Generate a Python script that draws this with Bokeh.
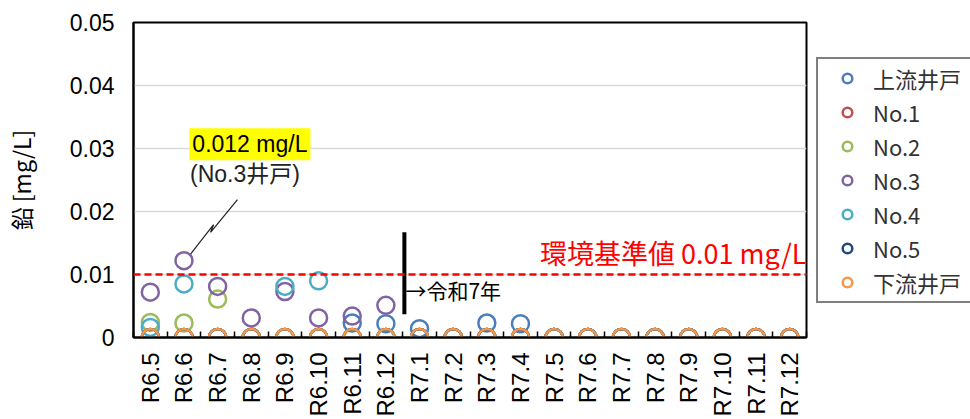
from math import pi
from bokeh.plotting import figure
from bokeh.models import Range1d, FixedTicker, Span, Label, Legend, LegendItem
from bokeh.core.properties import value
from bokeh.embed import file_html
from bokeh.resources import INLINE

# ---- data ----
months = ["R6.5", "R6.6", "R6.7", "R6.8", "R6.9", "R6.10", "R6.11", "R6.12",
          "R7.1", "R7.2", "R7.3", "R7.4", "R7.5", "R7.6", "R7.7", "R7.8",
          "R7.9", "R7.10", "R7.11", "R7.12"]
upstream = [0, 0, 0, 0, 0, 0, 0.0023, 0.0022, 0.0014, 0, 0.0023, 0.0022,
            0, 0, 0, 0, 0, 0, 0, 0]
no1 = [0] * 20
no2 = [0.0024, 0.0023, 0.0061, 0, 0, 0, 0, 0, 0, 0, 0, 0, 0, 0, 0, 0, 0, 0, 0, 0]
no3 = [0.0072, 0.0122, 0.0081, 0.0031, 0.0073, 0.0031, 0.0034, 0.0051,
       0, 0, 0, 0, 0, 0, 0, 0, 0, 0, 0, 0]
no4 = [0.0016, 0.0085, 0, 0, 0.0081, 0.0090, 0, 0, 0, 0, 0, 0, 0, 0, 0, 0, 0, 0, 0, 0]
no5 = [0] * 20
downstream = [0] * 20

series_names = ["上流井戸", "No.1", "No.2", "No.3", "No.4", "No.5", "下流井戸"]
series_values = [upstream, no1, no2, no3, no4, no5, downstream]
series_colors = ["#4A7EBB", "#C0504D", "#9BBB59", "#8064A2", "#4BACC6", "#1F497D", "#F79646"]

y_ticks = [0, 0.01, 0.02, 0.03, 0.04, 0.05]
y_tick_labels = ["0", "0.01", "0.02", "0.03", "0.04", "0.05"]
standard = 0.01
peak_value = 0.012
peak_month = "R6.6"
era_start = "R7.1"

# ---- figure ----
n = len(months)
xs = [i + 0.5 for i in range(n)]

p = figure(frame_width=673, frame_height=315,
           x_range=Range1d(0, n), y_range=Range1d(0, 0.05),
           output_backend="svg", toolbar_location=None,
           min_border_left=133, min_border_top=22, min_border_bottom=78,
           min_border_right=5)
p.background_fill_color = "white"
p.border_fill_color = "white"
p.outline_line_color = "black"
p.outline_line_width = 2

# axes
p.xaxis.ticker = FixedTicker(ticks=xs, minor_ticks=list(range(n + 1)))
p.xaxis.major_label_overrides = {x: m for x, m in zip(xs, months)}
p.xaxis.major_label_orientation = pi / 2
p.xaxis.major_tick_in = 0
p.xaxis.major_tick_out = 0
p.xaxis.minor_tick_in = 6
p.xaxis.minor_tick_out = 0
p.xaxis.minor_tick_line_color = "black"
p.xaxis.minor_tick_line_width = 1.5
p.xaxis.axis_line_color = "black"
p.xaxis.axis_line_width = 2
p.xaxis.major_label_text_font = "Liberation Sans"
p.xaxis.major_label_text_font_size = "24px"
p.xaxis.major_label_text_color = "black"
p.xaxis.major_label_standoff = 15

p.yaxis.ticker = FixedTicker(ticks=y_ticks, minor_ticks=[])
p.yaxis.major_label_overrides = {t: l for t, l in zip(y_ticks, y_tick_labels)}
p.yaxis.major_tick_in = 0
p.yaxis.major_tick_out = 0
p.yaxis.axis_line_color = "black"
p.yaxis.axis_line_width = 2
p.yaxis.major_label_text_font = "Liberation Sans"
p.yaxis.major_label_text_font_size = "23px"
p.yaxis.major_label_text_color = "black"
p.yaxis.major_label_standoff = 19
p.yaxis.axis_label = "鉛 [mg/L]"
p.yaxis.axis_label_text_font = "Noto Sans CJK JP"
p.yaxis.axis_label_text_font_size = "23px"
p.yaxis.axis_label_text_font_style = "normal"
p.yaxis.axis_label_text_color = "black"
p.yaxis.axis_label_standoff = 29

p.xgrid.visible = False
p.ygrid.ticker = FixedTicker(ticks=y_ticks[1:])
p.ygrid.grid_line_color = "#d9d9d9"
p.ygrid.grid_line_width = 1.5

# standard line
p.add_layout(Span(location=standard, dimension="width", line_color="#FF0000",
                  line_dash="7 4", line_width=2.5))
p.add_layout(Label(x=n, y=standard, text="環境基準値 0.01 mg/L", text_align="right",
                   text_baseline="alphabetic", y_offset=22, text_color="#FF0000",
                   text_font="Noto Sans CJK JP", text_font_size="27px"))

# era boundary
ex = months.index(era_start) + 0.05
p.segment(x0=[ex], y0=[0.0037], x1=[ex], y1=[0.0167], line_color="black", line_width=4)
p.add_layout(Label(x=ex + 0.03, y=0.0076, text="→令和7年", text_align="left",
                   text_baseline="middle", text_color="black",
                   text_font="Noto Sans CJK JP", text_font_size="21px"))

# callout
pk = months.index(peak_month) + 0.5
call_x = [pk + 0.16, pk + 0.88, pk + 0.79, pk + 1.59]
call_y = [peak_value + 0.0010, peak_value + 0.0059, peak_value + 0.0047, peak_value + 0.0099]
p.line(call_x, call_y, line_color="#222222", line_width=1.2)
p.add_layout(Label(x=pk + 0.16, y=0.0332, text="0.012 mg/L", text_align="left",
                   text_baseline="top", text_color="black",
                   text_font="Liberation Sans", text_font_size="23px",
                   background_fill_color="#FFFF00", padding=3))
p.add_layout(Label(x=pk + 0.18, y=0.0280, text="(No.3井戸)", text_align="left",
                   text_baseline="top", text_color="#222222",
                   text_font="Liberation Sans, Noto Sans CJK JP", text_font_size="23px"))

# series
items = []
for name, vals, col in zip(series_names, series_values, series_colors):
    r = p.scatter(xs, vals, marker="circle", size=17, fill_color=None,
                  line_color=col, line_width=2.5)
    items.append(LegendItem(label=name, renderers=[r]))

legend = Legend(items=items, location="center_left", orientation="vertical")
legend.border_line_color = "black"
legend.border_line_width = 2
legend.padding = 3
legend.spacing = 2
legend.margin = 10
legend.glyph_width = 52
legend.glyph_height = 24
legend.label_standoff = -13
legend.label_width = 106
legend.label_text_font = "Noto Sans CJK JP"
legend.label_text_font_size = "22px"
legend.label_text_color = "#333333"
legend.background_fill_color = "white"
legend.background_fill_alpha = 1
p.add_layout(legend, "right")

open("out.html", "w").write(file_html(p, INLINE))
